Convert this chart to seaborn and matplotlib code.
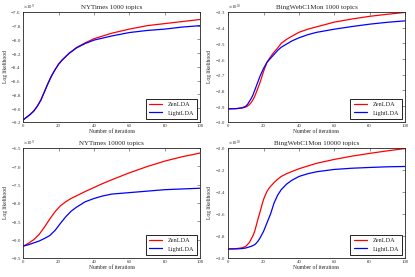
import numpy as np
import pandas as pd
import matplotlib
matplotlib.use("Agg")
import matplotlib.pyplot as plt
import seaborn as sns
from matplotlib.ticker import ScalarFormatter, MultipleLocator

# ---------------- data ----------------
titles = ["NYTimes 1000 topics", "BingWebC1Mon 1000 topics",
          "NYTimes 10000 topics", "BingWebC1Mon 10000 topics"]
scales = [1e9, 1e10, 1e9, 1e10]

nyt1k_x = [0, 2, 4, 6, 8, 10, 12, 14, 16, 18, 20, 22, 24, 26, 28, 30,
           35, 40, 45, 50, 60, 70, 80, 90, 100]
nyt1k_zen = [-9.17, -9.13, -9.09, -9.04, -8.97, -8.88, -8.76, -8.64, -8.53, -8.44,
             -8.36, -8.30, -8.25, -8.20, -8.16, -8.12,
             -8.05, -7.99, -7.95, -7.91, -7.85, -7.80, -7.77, -7.74, -7.71]
nyt1k_light = [-9.17, -9.13, -9.09, -9.04, -8.97, -8.88, -8.76, -8.64, -8.53, -8.44,
               -8.36, -8.30, -8.25, -8.20, -8.165, -8.125,
               -8.06, -8.01, -7.98, -7.95, -7.90, -7.87, -7.85, -7.82, -7.80]

bing1k_x = [0, 5, 8, 10, 11, 12, 13, 14, 15, 16, 17, 18, 19, 20, 21, 22, 24, 26,
            28, 30, 33, 36, 40, 45, 50, 60, 70, 80, 90, 100]
bing1k_zen = [-2.917, -2.915, -2.911, -2.905, -2.899, -2.89, -2.877, -2.86, -2.838,
              -2.81, -2.78, -2.75, -2.715, -2.68, -2.65, -2.62, -2.585, -2.555,
              -2.53, -2.50, -2.475, -2.455, -2.43, -2.41, -2.395, -2.365, -2.345,
              -2.328, -2.315, -2.303]
bing1k_light = [-2.917, -2.915, -2.91, -2.90, -2.888, -2.87, -2.852, -2.83, -2.80,
                -2.77, -2.74, -2.71, -2.685, -2.66, -2.64, -2.62, -2.595, -2.57,
                -2.545, -2.525, -2.505, -2.485, -2.465, -2.445, -2.43, -2.41, -2.393,
                -2.378, -2.366, -2.357]

nyt10k_x = [0, 3, 6, 9, 12, 15, 18, 21, 24, 27, 30, 35, 40, 45, 50, 60, 70, 80, 90, 100]
nyt10k_zen = [-9.18, -9.10, -9.00, -8.86, -8.66, -8.44, -8.24, -8.08, -7.97, -7.88,
              -7.81, -7.69, -7.58, -7.47, -7.37, -7.18, -7.01, -6.86, -6.74, -6.64]
nyt10k_light = [-9.18, -9.14, -9.09, -9.04, -8.97, -8.89, -8.75, -8.56, -8.38, -8.23,
                -8.12, -7.97, -7.88, -7.81, -7.76, -7.72, -7.68, -7.64, -7.62, -7.60]

bing10k_x = [0, 5, 8, 10, 12, 13, 14, 15, 16, 17, 18, 19, 20, 21, 22, 23, 24, 26, 28,
             30, 33, 36, 40, 45, 50, 60, 70, 80, 90, 100]
bing10k_zen = [-2.919, -2.915, -2.908, -2.895, -2.86, -2.83, -2.80, -2.76, -2.70,
               -2.64, -2.585, -2.525, -2.47, -2.43, -2.395, -2.37, -2.35, -2.315,
               -2.285, -2.26, -2.235, -2.215, -2.19, -2.165, -2.14, -2.105, -2.075,
               -2.05, -2.027, -2.006]
bing10k_light = [-2.919, -2.918, -2.915, -2.91, -2.90, -2.895, -2.888, -2.88, -2.865,
                 -2.845, -2.82, -2.79, -2.76, -2.72, -2.68, -2.64, -2.60, -2.50,
                 -2.43, -2.38, -2.33, -2.295, -2.26, -2.235, -2.217, -2.196, -2.185,
                 -2.178, -2.172, -2.169]

ylims = [(-9.2, -7.6), (-3.0, -2.3), (-9.5, -6.5), (-3.0, -2.0)]
ysteps = [0.2, 0.1, 0.5, 0.2]

series = [(nyt1k_x, nyt1k_zen, nyt1k_light),
          (bing1k_x, bing1k_zen, bing1k_light),
          (nyt10k_x, nyt10k_zen, nyt10k_light),
          (bing10k_x, bing10k_zen, bing10k_light)]

# ---------------- style ----------------
sns.set_style("white")
plt.rcParams["font.family"] = ["Liberation Serif", "DejaVu Serif"]
plt.rcParams["mathtext.fontset"] = "stix"
plt.rcParams["xtick.direction"] = "in"
plt.rcParams["ytick.direction"] = "in"
plt.rcParams["xtick.top"] = True
plt.rcParams["ytick.right"] = True

fig, axes = plt.subplots(2, 2, figsize=(4.15, 2.77), dpi=100)
fig.subplots_adjust(left=0.056, right=0.976, top=0.957, bottom=0.069,
                    wspace=0.158, hspace=0.236)

palette = {"ZenLDA": "#ff0000", "LightLDA": "#0000ff"}

for ax, title, sc, (xs, zen, light), ylim, ystep in zip(
        axes.flat, titles, scales, series, ylims, ysteps):
    df = pd.DataFrame({
        "iter": list(xs) + list(xs),
        "ll": [v * sc for v in zen] + [v * sc for v in light],
        "method": ["ZenLDA"] * len(xs) + ["LightLDA"] * len(xs),
    })
    sns.lineplot(data=df, x="iter", y="ll", hue="method", palette=palette,
                 hue_order=["ZenLDA", "LightLDA"], ax=ax, linewidth=0.9)
    ax.set_xlim(0, 100)
    ax.set_ylim(ylim[0] * sc, ylim[1] * sc)
    ax.xaxis.set_major_locator(MultipleLocator(20))
    ax.yaxis.set_major_locator(MultipleLocator(ystep * sc))
    fmt = ScalarFormatter(useMathText=True)
    fmt.set_powerlimits((-3, 3))
    ax.yaxis.set_major_formatter(fmt)
    ax.yaxis.get_offset_text().set_fontsize(3.5)
    ax.tick_params(labelsize=3.5, length=2, width=0.4, pad=1.5, colors="#444444",
                   labelcolor="#333333")
    for s in ax.spines.values():
        s.set_color("#222222")
        s.set_linewidth(0.6)
    ax.set_title(title, fontsize=5, pad=2)
    ax.set_xlabel("Number of iterations", fontsize=4, labelpad=1)
    ax.set_ylabel("Log likelihood", fontsize=4, labelpad=2)
    leg = ax.legend(loc="lower right", fontsize=4.5, fancybox=False,
                    framealpha=1, edgecolor="black", borderpad=0.5,
                    handlelength=2.2, labelspacing=0.5)
    leg.get_frame().set_linewidth(0.6)

fig.savefig("out.png", dpi=100)
